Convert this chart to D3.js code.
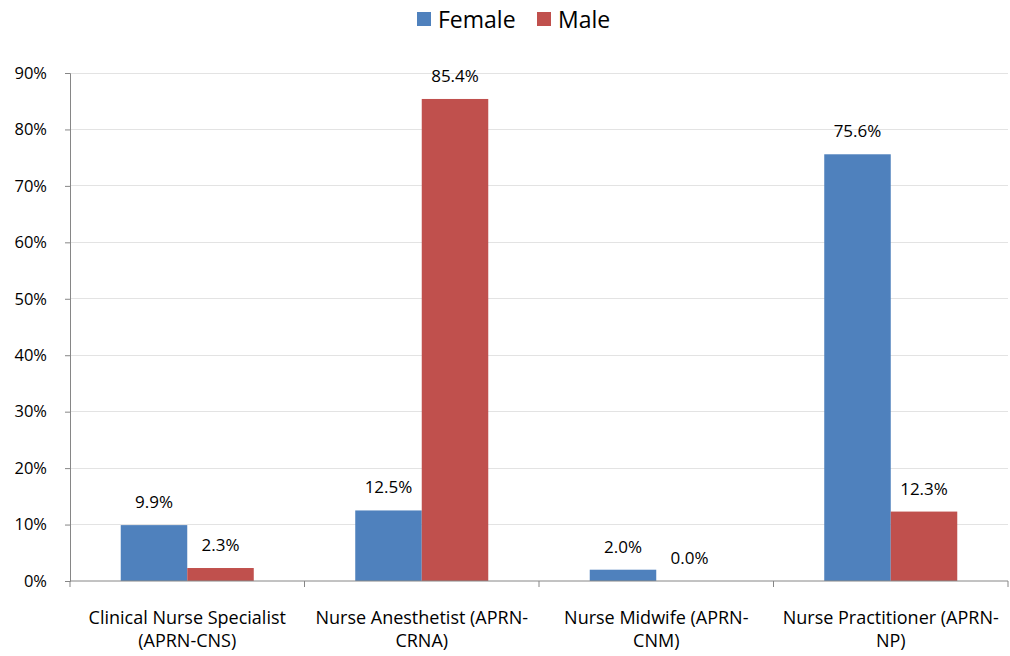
<!DOCTYPE html>
<html>
<head>
<meta charset="utf-8">
<script src="https://cdn.jsdelivr.net/npm/d3@7"></script>
<style>
  html, body { margin: 0; padding: 0; background: #fff; }
  svg { display: block; font-family: "Open Sans", sans-serif; }
</style>
</head>
<body>
<svg id="chart" width="1010" height="656"></svg>
<script>
// APRN roles by gender (share of licensees)
const categories = [
  "Clinical Nurse Specialist (APRN-CNS)",
  "Nurse Anesthetist (APRN-CRNA)",
  "Nurse Midwife (APRN-CNM)",
  "Nurse Practitioner (APRN-NP)"
];
const categoryLines = [
  ["Clinical Nurse Specialist", "(APRN-CNS)"],
  ["Nurse Anesthetist (APRN-", "CRNA)"],
  ["Nurse Midwife (APRN-", "CNM)"],
  ["Nurse Practitioner (APRN-", "NP)"]
];
const seriesNames = ["Female", "Male"];
const femaleValues = [9.9, 12.5, 2.0, 75.6];
const maleValues = [2.3, 85.4, 0.0, 12.3];
const yTicks = [0, 10, 20, 30, 40, 50, 60, 70, 80, 90];
const colors = { Female: "#4f81bd", Male: "#c0504d" };

const svg = d3.select("#chart");
const plot = { left: 70, right: 1008, top: 73, bottom: 581 };
const fontFamily = "'Open Sans', sans-serif";

const rows = categories.map((c, i) => ({
  category: c,
  lines: categoryLines[i],
  values: { Female: femaleValues[i], Male: maleValues[i] }
}));

const x0 = d3.scaleBand().domain(categories).range([plot.left, plot.right]).padding(0);
const x1 = d3.scaleBand().domain(seriesNames).range([0, x0.bandwidth()])
  .paddingInner(0).paddingOuter(0.763);
const y = d3.scaleLinear().domain([0, 90]).range([plot.bottom, plot.top]);

// horizontal gridlines
svg.append("g")
  .selectAll("line")
  .data(yTicks.filter(t => t > 0))
  .join("line")
  .attr("x1", plot.left).attr("x2", plot.right)
  .attr("y1", d => y(d)).attr("y2", d => y(d))
  .attr("stroke", "#e3e3e3").attr("stroke-width", 1)
  .attr("shape-rendering", "crispEdges");

// bars
const groups = svg.append("g")
  .selectAll("g")
  .data(rows)
  .join("g")
  .attr("transform", d => `translate(${x0(d.category)},0)`);

groups.selectAll("rect")
  .data(d => seriesNames.map(s => ({ s, v: d.values[s] })))
  .join("rect")
  .attr("x", d => x1(d.s))
  .attr("width", x1.bandwidth())
  .attr("y", d => y(d.v))
  .attr("height", d => y(0) - y(d.v))
  .attr("fill", d => colors[d.s]);

// value labels
groups.selectAll("text.value")
  .data(d => seriesNames.map(s => ({ s, v: d.values[s] })))
  .join("text")
  .attr("class", "value")
  .attr("x", d => x1(d.s) + x1.bandwidth() / 2)
  .attr("y", d => y(d.v) - 17)
  .attr("text-anchor", "middle")
  .attr("font-size", 17)
  .attr("fill", "#000")
  .text(d => d.v.toFixed(1) + "%");

// y axis
const yAxis = d3.axisLeft(y).tickValues(yTicks).tickFormat(d => d + "%").tickSize(5).tickPadding(18);
const gy = svg.append("g").attr("transform", `translate(${plot.left},0)`).call(yAxis);
gy.select(".domain").attr("stroke", "#868686");
gy.selectAll(".tick line").attr("stroke", "#868686");
gy.selectAll(".tick text").attr("font-size", 16.5).attr("fill", "#000")
  .attr("font-family", fontFamily);

// x axis: baseline with category boundary ticks
const gx = svg.append("g");
gx.append("line")
  .attr("x1", plot.left).attr("x2", plot.right)
  .attr("y1", plot.bottom).attr("y2", plot.bottom)
  .attr("stroke", "#868686");
const boundaries = categories.map(c => x0(c)).concat([plot.right]);
gx.selectAll("line.tick")
  .data(boundaries)
  .join("line")
  .attr("class", "tick")
  .attr("x1", d => d).attr("x2", d => d)
  .attr("y1", plot.bottom).attr("y2", plot.bottom + 6)
  .attr("stroke", "#868686");

const labels = gx.selectAll("text.cat")
  .data(rows)
  .join("text")
  .attr("class", "cat")
  .attr("text-anchor", "middle")
  .attr("font-size", 18)
  .attr("fill", "#000")
  .attr("transform", d => `translate(${x0(d.category) + x0.bandwidth() / 2},624)`);
labels.selectAll("tspan")
  .data(d => d.lines)
  .join("tspan")
  .attr("x", 0)
  .attr("dy", (d, i) => i === 0 ? 0 : 23)
  .text(d => d);

// legend
const legend = svg.append("g");
const legendItems = [
  { name: "Female", x: 417 },
  { name: "Male", x: 537 }
];
const li = legend.selectAll("g").data(legendItems).join("g")
  .attr("transform", d => `translate(${d.x},12)`);
li.append("rect").attr("width", 14).attr("height", 14).attr("fill", d => colors[d.name]);
li.append("text").attr("x", 21).attr("y", 16).attr("font-size", 23).attr("fill", "#000")
  .text(d => d.name);
</script>
</body>
</html>
